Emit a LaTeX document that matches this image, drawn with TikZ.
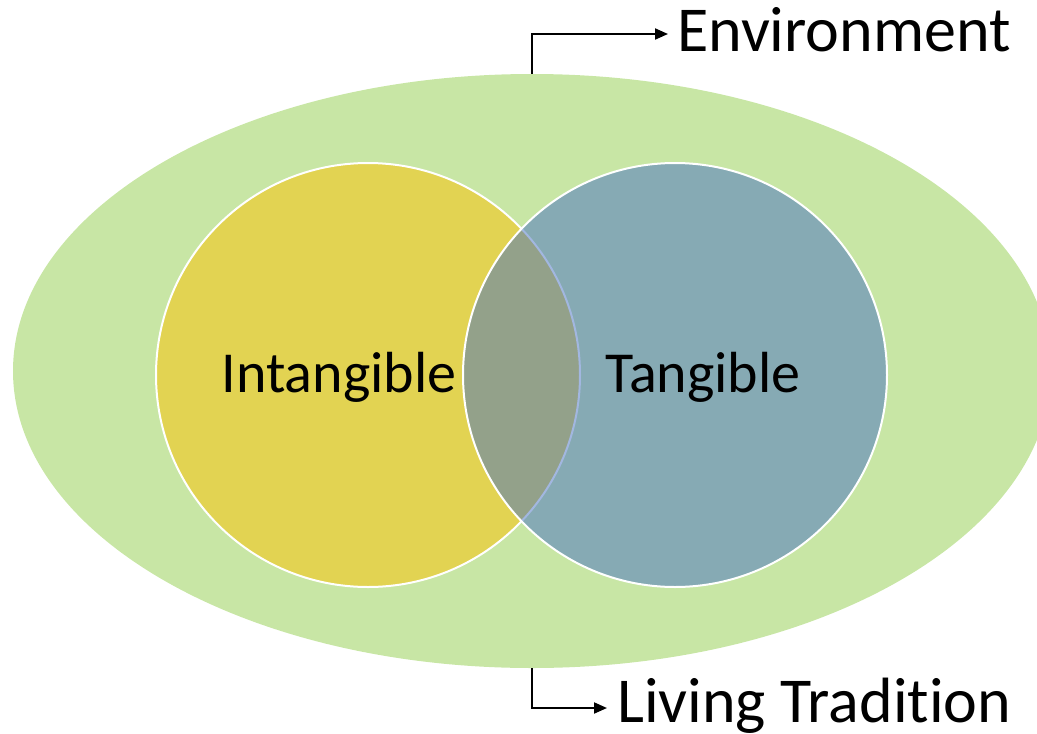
\documentclass[tikz,border=0pt]{standalone}
\usepackage{fontspec}
\setmainfont[RawFeature=-liga]{Carlito}
\usetikzlibrary{shapes.geometric,arrows.meta}
\definecolor{envgreen}{RGB}{200,230,165}
\definecolor{intyellow}{RGB}{226,211,82}
\definecolor{tanblue}{RGB}{70,112,195}
\tikzset{
  setcircle/.style={circle, minimum size=424pt, inner sep=0pt, draw=white, line width=2pt},
  bigtext/.style={font=\fontsize{58}{70}\selectfont, inner sep=0pt, text=black},
  outertext/.style={font=\fontsize{64}{76}\selectfont, inner sep=0pt, text=black},
  pointer/.style={draw=black, line width=2pt, -{Triangle[length=13pt,width=11pt]}}
}
\begin{document}
\begin{tikzpicture}[x=1pt,y=-1pt]
\useasboundingbox (0,0) rectangle (1037,734);
\node[ellipse, fill=envgreen, minimum width=1038pt, minimum height=594pt, inner sep=0pt] (env) at (532,371) {};
\node[setcircle, fill=intyellow] (intc) at (368,375) {};
\node[setcircle, fill=tanblue, fill opacity=0.5] (tanc) at (675,375) {};
\node[bigtext, anchor=base] (inttext) at (339,392) {Intangible};
\node[bigtext, anchor=base] (tantext) at (703,392) {Tangible};
\node[outertext, anchor=base west] (envlabel) at (677,51) {Environment};
\node[outertext, anchor=base west] (livlabel) at (617,722) {Living Tradition};
\coordinate (envend) at (668,34);
\coordinate (livend) at (607,708);
\draw[pointer] (env.north) |- (envend);
\draw[pointer] (env.south) |- (livend);
\end{tikzpicture}
\end{document}
